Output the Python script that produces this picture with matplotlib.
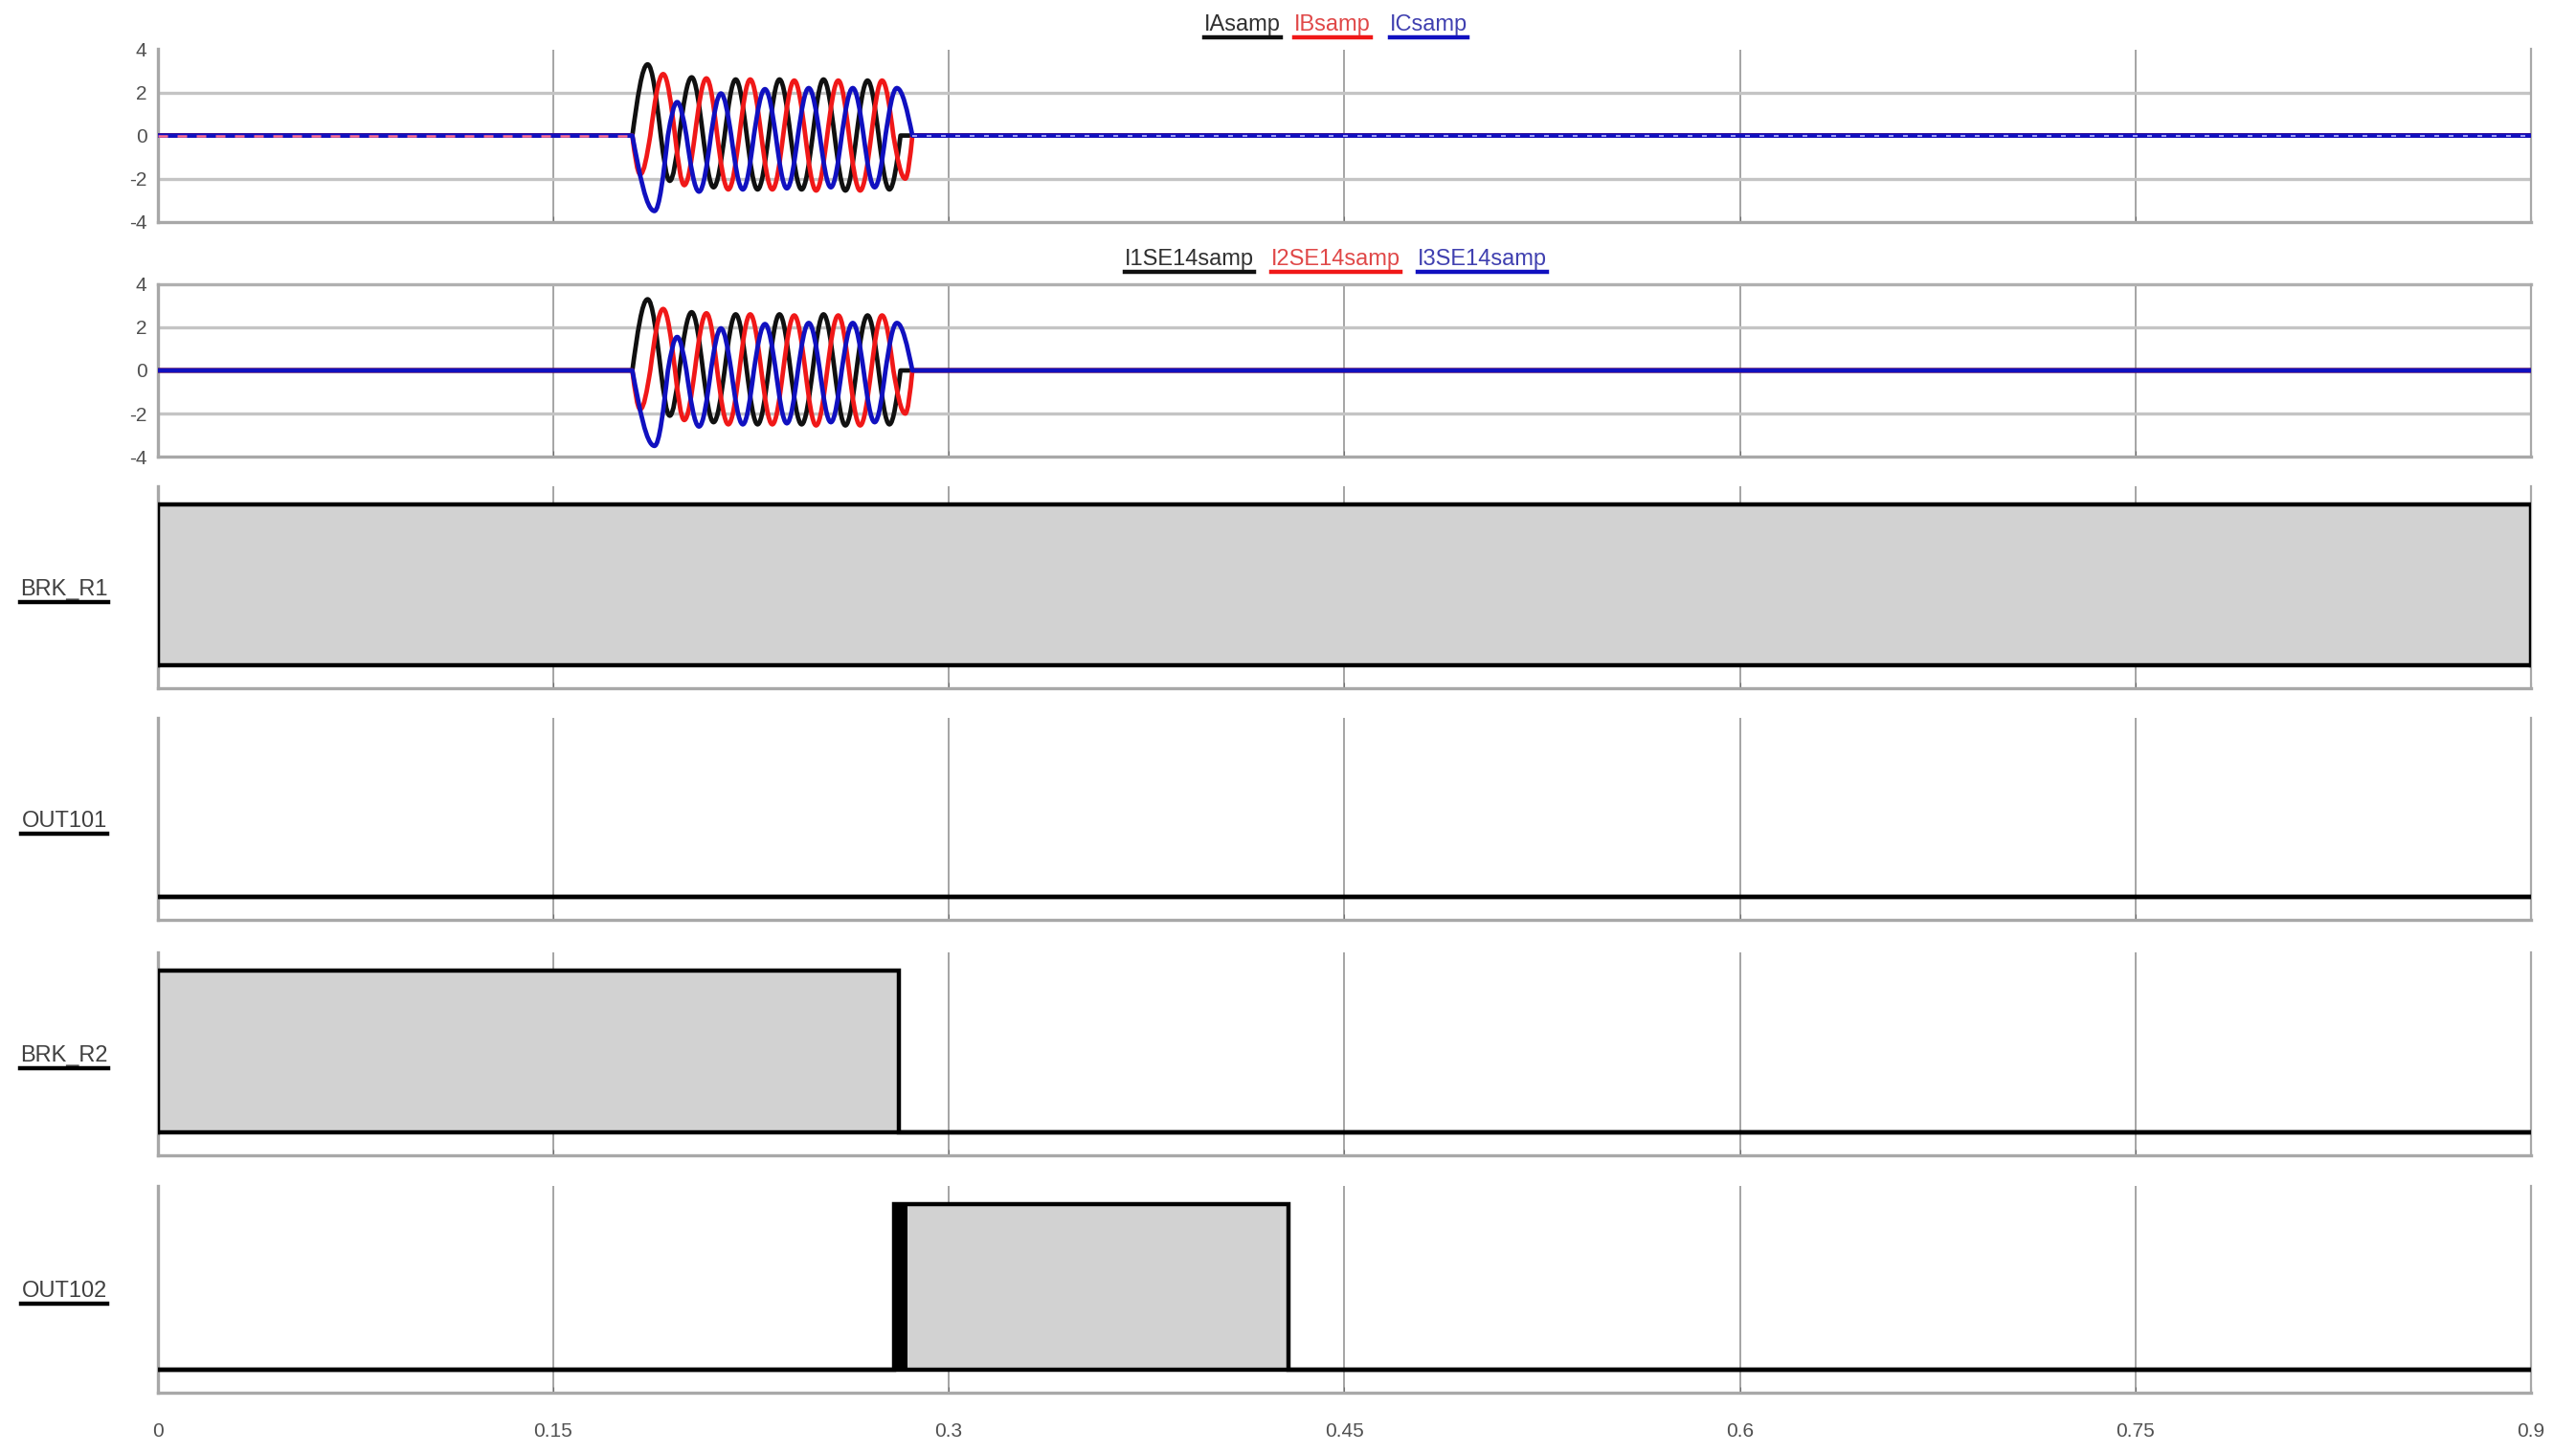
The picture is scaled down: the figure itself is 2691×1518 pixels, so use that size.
import numpy as np
import matplotlib
matplotlib.use('Agg')
import matplotlib.pyplot as plt
from matplotlib.path import Path
from matplotlib.patches import PathPatch
from matplotlib.lines import Line2D

W, H = 2691, 1518
FONT = ['Liberation Sans Narrow', 'Liberation Sans', 'DejaVu Sans']

# ---- analog channels: zero crossings and peaks (s, per unit) ----
fault_start = 0.180
t_end = 0.9

ia_t = [0.0, 0.1800, 0.1858, 0.1908, 0.1942, 0.1978, 0.2025, 0.2068, 0.2108, 0.2150,
        0.2192, 0.2234, 0.2275, 0.2317, 0.2358, 0.2400, 0.2442, 0.2484, 0.2525, 0.2567,
        0.2608, 0.2650, 0.2692, 0.2734, 0.2775, 0.2817, 0.9]
ia_v = [0, 0, 3.3, 0, -2.1, 0, 2.7, 0, -2.4, 0,
        2.6, 0, -2.5, 0, 2.6, 0, -2.5, 0, 2.6, 0,
        -2.55, 0, 2.55, 0, -2.5, 0, 0]

ib_t = [0.0, 0.1800, 0.1830, 0.1868, 0.1917, 0.1962, 0.1997, 0.2037, 0.2081, 0.2122,
        0.2164, 0.2206, 0.2247, 0.2289, 0.2331, 0.2372, 0.2414, 0.2456, 0.2497, 0.2539,
        0.2581, 0.2622, 0.2664, 0.2706, 0.2747, 0.2790, 0.2835, 0.2862, 0.9]
ib_v = [0, 0, -1.8, 0, 2.85, 0, -2.3, 0, 2.65, 0,
        -2.5, 0, 2.6, 0, -2.5, 0, 2.55, 0, -2.55, 0,
        2.55, 0, -2.55, 0, 2.55, 0, -2.0, 0, 0]

ic_t = [0.0, 0.1800, 0.1884, 0.1935, 0.1970, 0.2005, 0.2053, 0.2098, 0.2136, 0.2175,
        0.2219, 0.2261, 0.2303, 0.2344, 0.2386, 0.2428, 0.2469, 0.2511, 0.2553, 0.2594,
        0.2636, 0.2677, 0.2719, 0.2760, 0.2803, 0.2862, 0.9]
ic_v = [0, 0, -3.5, 0, 1.55, 0, -2.6, 0, 1.95, 0,
        -2.5, 0, 2.15, 0, -2.45, 0, 2.2, 0, -2.4, 0,
        2.2, 0, -2.4, 0, 2.2, 0, 0]
fault_clear = 0.2862

top_names = ['IAsamp', 'IBsamp', 'ICsamp']
mid_names = ['I1SE14samp', 'I2SE14samp', 'I3SE14samp']

# ---- digital channels: transition times and states ----
brk_r1_t = [0.0, 0.9]
brk_r1_v = [1, 1]
out101_t = [0.0, 0.9]
out101_v = [0, 0]
brk_r2_t = [0.0, 0.2810, 0.9]
brk_r2_v = [1, 0, 0]
out102_t = [0.0, 0.2793, 0.4288, 0.9]
out102_v = [0, 1, 0, 0]
out102_chatter = (0.2793, 0.2844)

digital_names = ['BRK_R1', 'OUT101', 'BRK_R2', 'OUT102']

x_ticks = [0, 0.15, 0.3, 0.45, 0.6, 0.75, 0.9]
x_ticklabels = ['0', '0.15', '0.3', '0.45', '0.6', '0.75', '0.9']
y_ticks = [-4, -2, 0, 2, 4]

phase_colors = ['#101010', '#f01818', '#1010c0']
text_colors = ['#303030', '#e04848', '#4040b0']
SPINE = '#a8a8a8'
GRID = '#8c8c8c'
FILL = '#d2d2d2'

# quarter-sine cubic bezier handles
K1, K2, K3 = 0.3261, 0.5123, 0.3615


def wave_path(ts, vs):
    verts = [(ts[0], vs[0])]
    codes = [Path.MOVETO]
    for t0, v0, t1, v1 in zip(ts[:-1], vs[:-1], ts[1:], vs[1:]):
        dt = t1 - t0
        if v0 == 0 and v1 == 0:
            verts.append((t1, v1))
            codes.append(Path.LINETO)
            continue
        if v0 == 0:
            verts += [(t0 + K1 * dt, K2 * v1), (t1 - K3 * dt, v1), (t1, v1)]
        else:
            verts += [(t0 + K3 * dt, v0), (t1 - K1 * dt, K2 * v0), (t1, v1)]
        codes += [Path.CURVE4] * 3
    return Path(verts, codes)


def step_line(ts, vs):
    xs, ys = [ts[0]], [0]
    for i in range(len(ts) - 1):
        xs += [ts[i], ts[i + 1]]
        ys += [vs[i], vs[i]]
    xs.append(ts[-1])
    ys.append(0)
    return xs, ys


def px_axes(top, bottom):
    left, right = 164.7, 2644.0
    return [left / W, 1 - bottom / H, (right - left) / W, (bottom - top) / H]


fig = plt.figure(figsize=(W / 100, H / 100), dpi=100)
fig.patch.set_facecolor('white')

panel_px = [(51.5, 231.7), (296.9, 477.1), (508, 719), (750, 961), (995, 1206.5), (1239, 1455)]
axes = [fig.add_axes(px_axes(t, b)) for t, b in panel_px]

for ax in axes:
    ax.set_xlim(0, t_end)
    ax.spines['top'].set_visible(False)
    for side in ['left', 'bottom', 'right']:
        ax.spines[side].set_color(SPINE)
        ax.spines[side].set_linewidth(2.4)
    ax.spines['right'].set_linewidth(1.6)
    for x in x_ticks[1:-1]:
        ax.axvline(x, color=GRID, lw=1.1, zorder=0)
    ax.set_xticks(x_ticks)
    ax.tick_params(axis='x', direction='in', length=4, color='#707070', labelbottom=False)

# analog panels
waves = [(ia_t, ia_v), (ib_t, ib_v), (ic_t, ic_v)]
for k, ax in enumerate(axes[:2]):
    ax.set_ylim(-4, 4)
    ax.set_yticks(y_ticks)
    ax.set_yticklabels([str(v) for v in y_ticks], family=FONT, fontsize=15, color='#505050')
    ax.tick_params(axis='y', length=0, pad=8)
    for yv in [-2, 2]:
        ax.axhline(yv, color='#c4c4c4', lw=2.4, zorder=0)
    if k == 1:
        ax.axhline(4, color='#b0b0b0', lw=2.4, zorder=0, clip_on=False)
    for (ts, vs), c in zip(waves, phase_colors):
        ax.add_patch(PathPatch(wave_path(ts, vs), fill=False, edgecolor=c, lw=3.4,
                               capstyle='round', joinstyle='round', zorder=3))
    if k == 0:
        ax.plot([0, fault_start], [0, 0], color='#ff7090', lw=1.8, ls=(0, (4, 4)), zorder=4)
        ax.plot([fault_clear, t_end], [0, 0], color='#b8b8ff', lw=1.2, ls=(0, (3, 6)), zorder=4)

# digital panels
digital = [(brk_r1_t, brk_r1_v), (out101_t, out101_v), (brk_r2_t, brk_r2_v), (out102_t, out102_v)]
for ax, (ts, vs) in zip(axes[2:], digital):
    ax.set_ylim(-0.14, 1.11)
    ax.set_yticks([])
    xs, ys = step_line(ts, vs)
    ax.fill_between(xs, 0, ys, color=FILL, lw=0, zorder=1)
    ax.plot(xs, ys, color='black', lw=3.2, zorder=3, solid_joinstyle='miter')
    ax.plot([0, t_end], [0, 0], color='black', lw=3.2, zorder=3)

axes[5].axvspan(out102_chatter[0], out102_chatter[1], ymin=0.14 / 1.25, ymax=1.14 / 1.25,
                color='black', lw=0, zorder=4)

axes[5].set_xticklabels(x_ticklabels, family=FONT, fontsize=15, color='#505050')
axes[5].tick_params(axis='x', labelbottom=True, pad=22)

# legends and channel names with underlines
labels = []


def label(x, y, s, tcolor, lcolor, ha='left'):
    t = fig.text(x / W, 1 - y / H, s, color=tcolor, family=FONT, fontsize=17,
                 ha=ha, va='center')
    labels.append((t, lcolor))


for x, s, tc, lc in zip([1258, 1352, 1452], top_names, text_colors, phase_colors):
    label(x, 26, s, tc, lc)
for x, s, tc, lc in zip([1175, 1328, 1481], mid_names, text_colors, phase_colors):
    label(x, 271, s, tc, lc)
for (t, b), s in zip(panel_px[2:], digital_names):
    label(67, (t + b) / 2 + 2, s, '#404040', '#000000', ha='center')

fig.canvas.draw()
renderer = fig.canvas.get_renderer()
for t, lc in labels:
    bb = t.get_window_extent(renderer)
    yline = (bb.y0 - 2) / H
    fig.add_artist(Line2D([bb.x0 / W, bb.x1 / W], [yline, yline], color=lc, lw=3.2,
                          transform=fig.transFigure))

fig.savefig('out.png', dpi=100, facecolor='white')
